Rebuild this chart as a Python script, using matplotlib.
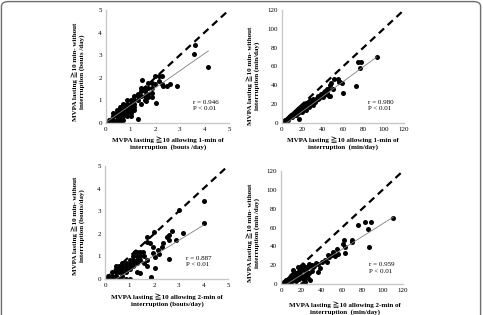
import matplotlib
matplotlib.use("Agg")
import matplotlib.pyplot as plt
from matplotlib.patches import FancyBboxPatch

# ---------------- data ----------------
# Panel A: bouts/day, 1-min interruption
a_x = [0.00,0.14,0.29,0.43,0.14,0.29,0.43,0.29,0.43,0.57,0.43,0.57,0.71,0.43,0.57,0.71,0.86,0.57,0.71,0.86,
       1.00,0.71,0.86,1.00,0.71,0.86,1.00,1.14,1.14,1.00,1.29,1.14,1.29,1.43,1.57,1.43,1.57,1.71,1.86,1.43,
       1.57,1.71,1.86,1.46,1.71,1.86,2.00,1.86,2.00,2.14,2.29,2.29,2.33,2.47,2.62,2.90,2.03,1.63,3.62,3.59,
       4.16,1.57,1.29,1.14,0.86,1.00,0.57,0.29,0.86,1.00,1.14,0.57,0.71,1.29,1.43,1.71,2.14]
a_y = [0.00,0.00,0.00,0.00,0.14,0.14,0.14,0.29,0.29,0.29,0.43,0.43,0.43,0.57,0.57,0.57,0.57,0.71,0.71,0.71,
       0.71,0.29,0.43,0.57,0.86,0.86,0.86,0.86,0.71,1.00,0.16,1.21,1.21,1.21,1.21,1.43,1.43,1.29,1.31,0.86,
       1.00,1.15,1.14,1.89,1.76,1.76,1.71,1.57,2.06,2.06,2.06,1.71,1.62,1.62,1.74,1.62,0.90,0.99,3.45,3.04,
       2.48,1.57,1.00,1.00,1.00,0.43,0.14,0.43,0.29,0.29,0.57,0.00,0.14,1.29,1.57,1.57,1.86]
a_fit = (0.76, 0.03)
a_stats = "r = 0.946\nP < 0.01"

# Panel B: min/day, 1-min interruption
b_x = [0,1,2,3,4,5,5,6,7,8,8,9,10,10,11,12,12,13,14,15,16,16,17,18,18,17,19,20,21,22,20,24,25,26,27,28,30,
       32,33,35,36,37,38,39,40,41,43,44,45,46,47,48,50,51.5,54.8,56,57,58.7,47,60.3,72.5,75,77.7,76.7,93,
       29,31,23,14,6,3,
       2,3,4,6,7,9,11,13,14,15,16,17,19,20,21,22,23,24,26,28,30,34,35,38,41,42,44]
b_y = [0,0,1,2,2,3,4,5,5,6,7,7,8,6,9,8,10,11,10,12,13,11,14,15,16,4,13,17,15,16,12,14,18,19,17,20,19,
       22,24,26,27,29,29,30,28,30,31,32,36,29,40,42,36,46.7,46.7,44,44,43,28.7,31.5,39.3,64.4,65,58.8,69.7,
       21,23,19,9,3,2,
       2,3,3,4,6,8,10,12,13,14,15,16,17,18,19,18,20,21,22,24,26,27,29,31,33,34,36]
b_fit = (0.79, -3.5)
b_stats = "r = 0.980\nP < 0.01"

# Panel C: bouts/day, 2-min interruption
c_x = [0.00,0.14,0.29,0.43,0.57,0.14,0.29,0.43,0.29,0.43,0.57,0.71,0.43,0.57,0.71,0.86,0.57,0.71,0.86,1.00,
       0.86,1.00,1.14,1.00,1.14,1.29,1.43,1.14,1.29,1.43,0.86,1.00,1.29,1.57,1.71,0.71,0.43,1.22,1.31,1.42,
       1.53,1.42,1.87,1.87,2.03,2.60,2.03,2.20,1.96,2.17,1.96,1.83,1.70,1.72,2.00,2.30,2.37,2.50,2.60,2.60,
       2.71,2.87,3.16,3.00,4.02,4.02,0.71,0.86,1.00,1.14,1.29,1.57,1.71]
c_y = [0.00,0.00,0.00,0.00,0.00,0.14,0.14,0.14,0.29,0.29,0.29,0.14,0.43,0.43,0.43,0.43,0.57,0.57,0.57,0.57,
       0.71,0.71,0.71,0.86,0.86,0.86,0.86,1.00,1.00,1.00,0.00,0.00,0.29,0.71,0.57,0.71,0.57,1.20,1.20,1.20,
       1.20,0.28,0.10,0.03,0.47,0.87,0.99,1.10,1.14,1.28,1.43,1.58,1.65,1.84,2.09,1.43,1.58,1.84,1.73,1.95,
       2.14,1.73,2.02,3.05,3.44,2.46,0.29,0.29,0.43,0.57,0.71,1.00,0.86]
c_fit = (0.67, -0.30)
c_stats = "r = 0.887\nP < 0.01"

# Panel D: min/day, 2-min interruption
d_x = [0.7,3.9,7.2,10.5,13.8,24,27,15.4,23.6,18.7,17,20,22,25,27,31.8,36,38.4,36.7,40,45,43.3,47.2,46.6,
       50,51.5,53,56.4,54.8,63,63,61.3,62.3,70,69.5,86.9,85.2,76,82.6,88.5,110.5,
       2,4,5,6,8,9,10,12,14,16,18,20,21,23,25,28,30,12,15,19,8,
       3,5,7,9,11,13,15,17,19,21,23,24,26,28,30,32,34,6,11,16,22,26,29,21]
d_y = [0.7,1.8,2.5,4.2,6,2.5,6,9.6,9.6,13,18.4,16.6,20,13.8,18.4,18.4,13,16.6,20.9,23,23.7,25.5,29,30.8,
       30.8,33.6,30,31.5,36.8,32.6,39.6,42,47,46.4,44.2,38.9,58.4,62.7,65.5,65.5,69.7,
       0,1,2,3,5,4,7,6,9,12,5,8,15,4,10,12,14,15,3,17,1,
       2,4,5,7,8,10,12,13,15,17,18,16,18,21,20,19,22,1,3,7,6,9,4,0]
d_fit = (0.68, -4.0)
d_stats = "r = 0.959\nP < 0.01"

panels = [
    dict(x=a_x, y=a_y, fit=a_fit, stats=a_stats, lim=5, ticks=[0,1,2,3,4,5],
         ylabel="MVPA lasting \u226710 min- without\ninterruption (bouts /day)",
         xlabel="MVPA lasting \u226710 allowing 1-min of\ninterruption  (bouts /day)",
         rect=[106/483, 1-123/315, 123/483, 113/315], ylc=(-0.228, 0.45), xlc=(0.504, -0.177),
         txt=(3.52, 0.78)),
    dict(x=b_x, y=b_y, fit=b_fit, stats=b_stats, lim=120, ticks=[0,20,40,60,80,100,120],
         ylabel="MVPA lasting \u226710 min- without\ninterruption (min/day)",
         xlabel="MVPA lasting \u226710 allowing 1-min of\ninterruption  (min/day)",
         rect=[282/483, 1-123/315, 122/483, 113/315], ylc=(-0.238, 0.42), xlc=(0.5, -0.177),
         txt=(85, 19)),
    dict(x=c_x, y=c_y, fit=c_fit, stats=c_stats, lim=5, ticks=[0,1,2,3,4,5],
         ylabel="MVPA lasting \u226710 min- without\ninterruption (bouts/day)",
         xlabel="MVPA lasting \u226710 allowing 2-min of\ninterruption (bouts/day)",
         rect=[105/483, 1-279/315, 123/483, 113/315], ylc=(-0.22, 0.47), xlc=(0.504, -0.186),
         txt=(3.3, 0.78)),
    dict(x=d_x, y=d_y, fit=d_fit, stats=d_stats, lim=120, ticks=[0,20,40,60,80,100,120],
         ylabel="MVPA lasting \u226710 min- without\ninterruption (min /day)",
         xlabel="MVPA lasting \u226710 allowing 2-min of\ninterruption  (min/day)",
         rect=[281/483, 1-284/315, 122/483, 113/315], ylc=(-0.23, 0.45), xlc=(0.525, -0.215),
         txt=(87, 17)),
]

fam = ["Liberation Serif", "Noto Sans CJK JP", "DejaVu Sans"]
plt.rcParams['font.family'] = fam

fig = plt.figure(figsize=(4.83, 3.15), dpi=100)
fig.patch.set_facecolor("white")

frame = FancyBboxPatch((0.003, -0.05), 0.992, 1.045,
                       boxstyle="round,pad=0,rounding_size=0.015",
                       transform=fig.transFigure, ec="#6e6e6e", fc="none", lw=1.0)
fig.patches.append(frame)

for p in panels:
    ax = fig.add_axes(p["rect"])
    lim = p["lim"]
    ax.plot([0, lim], [0, lim], color="black", lw=1.6, dashes=(3.2, 2.2), zorder=1)
    m, b = p["fit"]
    x0 = max(0.0, -b / m) if b < 0 else 0.0
    x1 = max(p["x"])
    ax.plot([x0, x1], [m * x0 + b, m * x1 + b], color="#808080", lw=0.6, zorder=3)
    ax.scatter(p["x"], p["y"], s=13, color="black", linewidths=0, zorder=2)
    ax.set_xlim(0, lim)
    ax.set_ylim(0, lim)
    ax.set_xticks(p["ticks"])
    ax.set_yticks(p["ticks"])
    ax.tick_params(length=0, labelsize=5, pad=3)
    for s in ["top", "right"]:
        ax.spines[s].set_visible(False)
    for s in ["left", "bottom"]:
        ax.spines[s].set_color("#c8c8c8")
        ax.spines[s].set_linewidth(1.0)
    ax.set_ylabel(p["ylabel"], fontsize=5, fontweight="bold", linespacing=1.25)
    ax.set_xlabel(p["xlabel"], fontsize=5, fontweight="bold", linespacing=1.25)
    ax.yaxis.set_label_coords(*p["ylc"])
    ax.xaxis.set_label_coords(*p["xlc"])
    ax.xaxis.label.set_va("center")
    ax.yaxis.label.set_va("center")
    ax.text(p["txt"][0], p["txt"][1], p["stats"], fontsize=5, linespacing=1.3,
            ha="left", va="center")
    ax.set_facecolor("white")
    ax.patch.set_alpha(0)

fig.savefig("out.png", dpi=100, facecolor="white")
